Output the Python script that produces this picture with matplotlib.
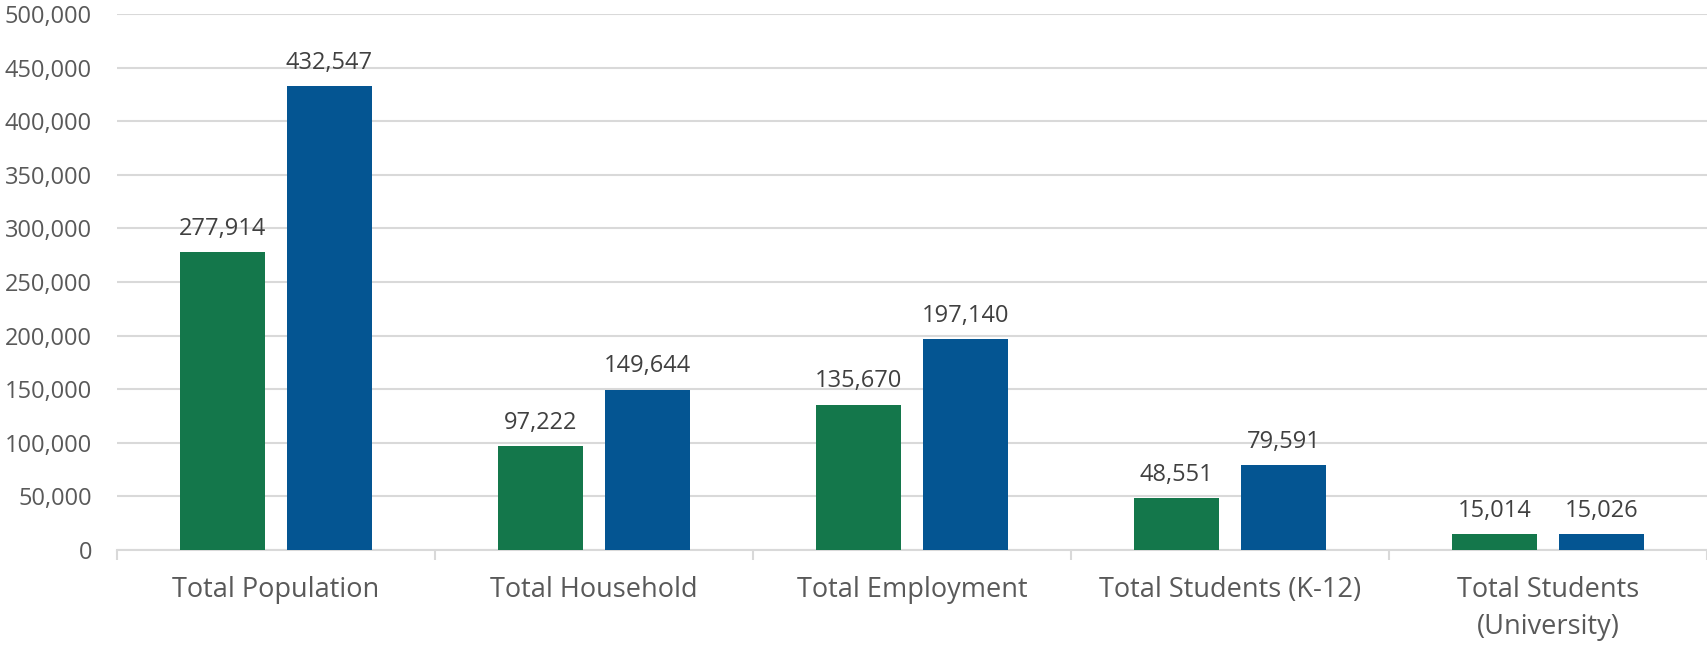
import numpy as np
import matplotlib.pyplot as plt
from matplotlib.ticker import FuncFormatter, FixedLocator

# data
categories = ["Total Population", "Total Household", "Total Employment",
              "Total Students (K-12)", "Total Students\n(University)"]
series_a = [277914, 97222, 135670, 48551, 15014]
series_b = [432547, 149644, 197140, 79591, 15026]
y_ticks = [0, 50000, 100000, 150000, 200000, 250000, 300000, 350000, 400000, 450000, 500000]

GREEN = "#14774B"
BLUE = "#045592"
TEXT = "#595959"
GRID = "#D9D9D9"

plt.rcParams['font.family'] = ['Open Sans', 'DejaVu Sans']

fig = plt.figure(figsize=(17.07, 6.45), dpi=100)
ax = fig.add_axes([117 / 1707, 1 - 550 / 645, 1 - 117 / 1707, (550 - 14) / 645])

x = np.arange(len(categories))
w = 0.267
off = 0.168
bars_a = ax.bar(x - off, series_a, width=w, color=GREEN, zorder=3)
bars_b = ax.bar(x + off, series_b, width=w, color=BLUE, zorder=3)

for bars in (bars_a, bars_b):
    for b in bars:
        ax.annotate(f"{int(b.get_height()):,}", (b.get_x() + b.get_width() / 2, b.get_height()),
                    xytext=(0, 8), textcoords="offset points", ha="center", va="bottom",
                    fontsize=17, color="#404040")

ax.set_xlim(-0.5, len(categories) - 0.5)
ax.set_ylim(0, 500000)
ax.set_yticks(y_ticks)
ax.yaxis.set_major_formatter(FuncFormatter(lambda v, p: f"{int(v):,}"))
ax.grid(axis="y", color=GRID, linewidth=1.5, zorder=0)

ax.set_xticks(x)
ax.set_xticklabels(categories, fontsize=19.5, color=TEXT, linespacing=1.4)
ax.xaxis.set_minor_locator(FixedLocator(np.arange(-0.5, len(categories), 1.0)))
ax.tick_params(axis="x", which="major", length=0, pad=19)
ax.tick_params(axis="x", which="minor", length=7, color=GRID, width=1.5)
ax.tick_params(axis="y", length=0, pad=18, labelsize=17, labelcolor=TEXT)

for s in ("top", "right", "left"):
    ax.spines[s].set_visible(False)
ax.spines["bottom"].set_color(GRID)
ax.spines["bottom"].set_linewidth(1.5)

fig.savefig("out.png", dpi=100)
